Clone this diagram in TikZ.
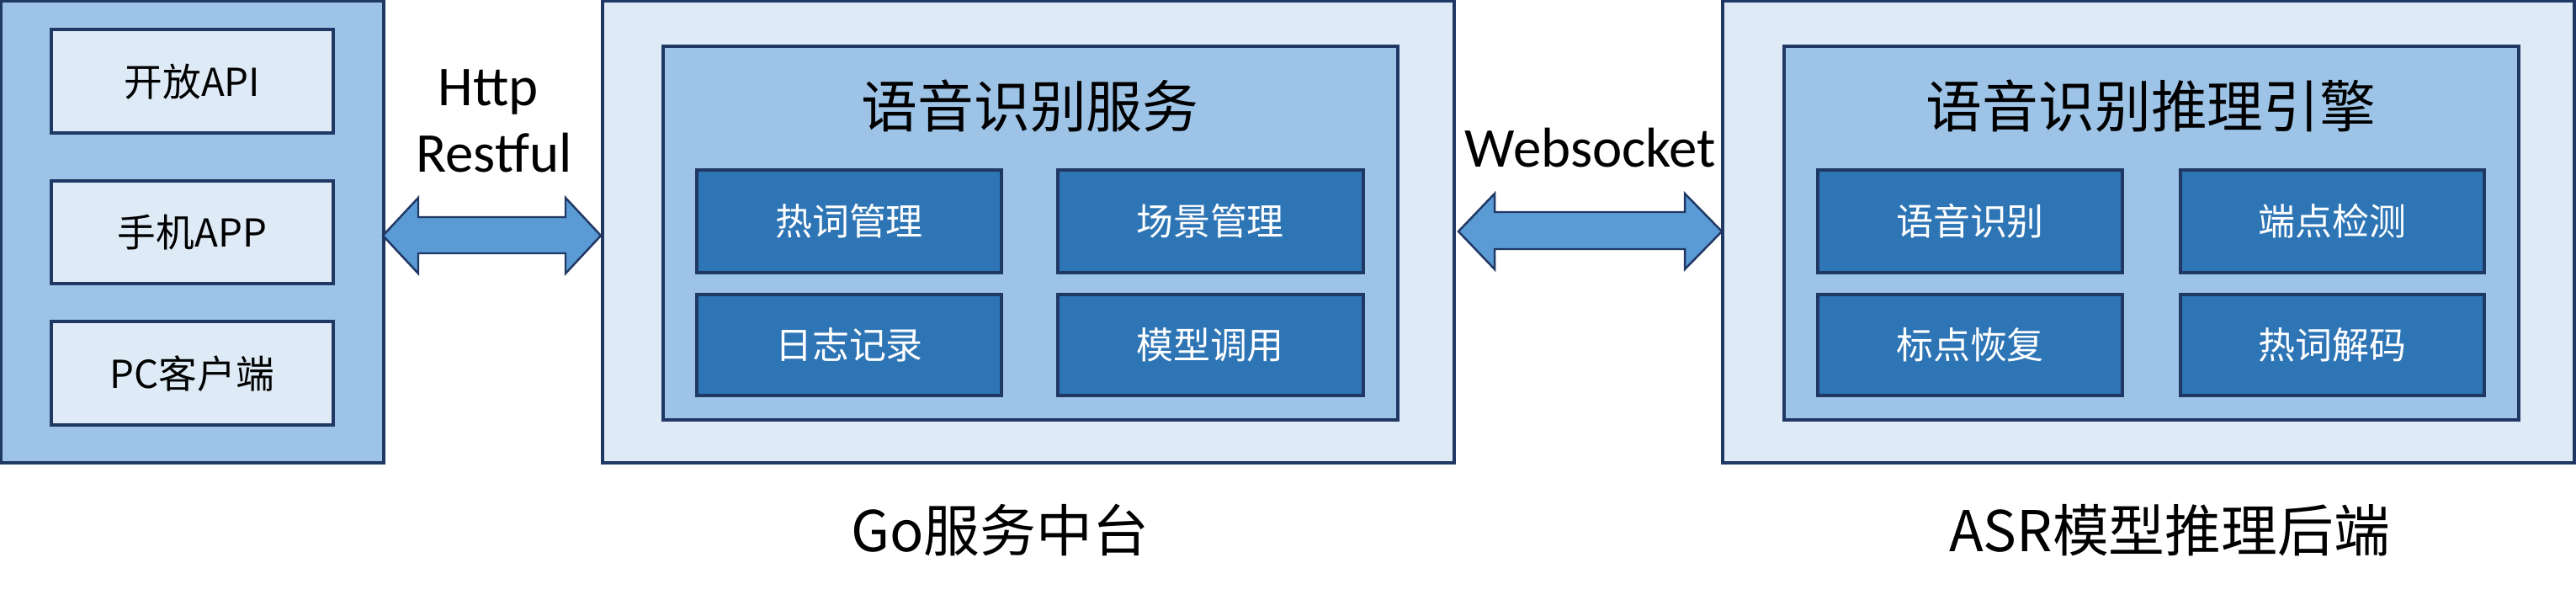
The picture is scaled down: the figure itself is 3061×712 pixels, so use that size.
\documentclass[tikz,border=0pt]{standalone}
\usepackage{fontspec}
\setmainfont{Noto Sans CJK SC}
\newfontfamily\lat{Carlito}
\definecolor{lightb}{HTML}{DEEBF7}
\definecolor{midb}{HTML}{9DC3E6}
\definecolor{darkb}{HTML}{2E75B6}
\definecolor{edge}{HTML}{203864}
\definecolor{arrb}{HTML}{5B9BD5}
\begin{document}
\begin{tikzpicture}[x=0.01cm,y=-0.01cm,
  box/.style={draw=edge,line width=0.9pt},
  lbox/.style={box,fill=lightb},
  mbox/.style={box,fill=midb},
  dbox/.style={box,fill=darkb},
  wtxt/.style={text=white,font=\fontsize{12.5}{14}\selectfont},
  btxt/.style={text=black,font=\fontsize{13}{15}\selectfont},
  ttxt/.style={font=\fontsize{19}{22}\selectfont},
  ltxt/.style={font=\lat\fontsize{19}{22}\selectfont},
  arr/.style={draw=edge,fill=arrb,line width=0.7pt,line join=miter}]
\useasboundingbox (0,0) rectangle (3061,712);
% left panel
\draw[mbox] (1,1) rectangle (456,550);
\draw[lbox] (61,35) rectangle (396,158); \node[btxt] (a1) at (228.5,97) {开放API};
\draw[lbox] (61,215) rectangle (396,337); \node[btxt] (a2) at (228.5,276) {手机APP};
\draw[lbox] (61,382) rectangle (396,505); \node[btxt] (a3) at (228.5,444) {PC客户端};
% left arrow
\draw[arr] (455,280) -- (497,235) -- (497,258) -- (672,258) -- (672,235) -- (714,280) -- (672,325) -- (672,301) -- (497,301) -- (497,325) -- cycle;
\node[ltxt] (h1) at (580,109) {Http};
\node[ltxt] (h2) at (587,182) {Restful};
% middle
\draw[lbox] (716,1) rectangle (1728,550);
\draw[mbox] (788,55) rectangle (1661,499);
\node[ttxt] (t1) at (1224,126) {语音识别服务};
\draw[dbox] (828,202) rectangle (1190,324); \node[wtxt] (m1) at (1009,263) {热词管理};
\draw[dbox] (1257,202) rectangle (1620,324); \node[wtxt] (m2) at (1438,263) {场景管理};
\draw[dbox] (828,350) rectangle (1190,470); \node[wtxt] (m3) at (1009,410) {日志记录};
\draw[dbox] (1257,350) rectangle (1620,470); \node[wtxt] (m4) at (1438,410) {模型调用};
\node[ttxt] (g1) at (1188,630) {Go服务中台};
% right arrow
\draw[arr] (1733,275) -- (1776,230) -- (1776,252) -- (2002,252) -- (2002,230) -- (2046,275) -- (2002,320) -- (2002,296) -- (1776,296) -- (1776,320) -- cycle;
\node[ltxt] (ws) at (1890,176) {Websocket};
% right
\draw[lbox] (2047,1) rectangle (3059,550);
\draw[mbox] (2120,55) rectangle (2993,499);
\node[ttxt] (t2) at (2556,126) {语音识别推理引擎};
\draw[dbox] (2160,202) rectangle (2522,324); \node[wtxt] (r1) at (2341,263) {语音识别};
\draw[dbox] (2591,202) rectangle (2952,324); \node[wtxt] (r2) at (2771,263) {端点检测};
\draw[dbox] (2160,350) rectangle (2522,470); \node[wtxt] (r3) at (2341,410) {标点恢复};
\draw[dbox] (2591,350) rectangle (2952,470); \node[wtxt] (r4) at (2771,410) {热词解码};
\node[ttxt] (g2) at (2578,630) {ASR模型推理后端};
\end{tikzpicture}
\end{document}
